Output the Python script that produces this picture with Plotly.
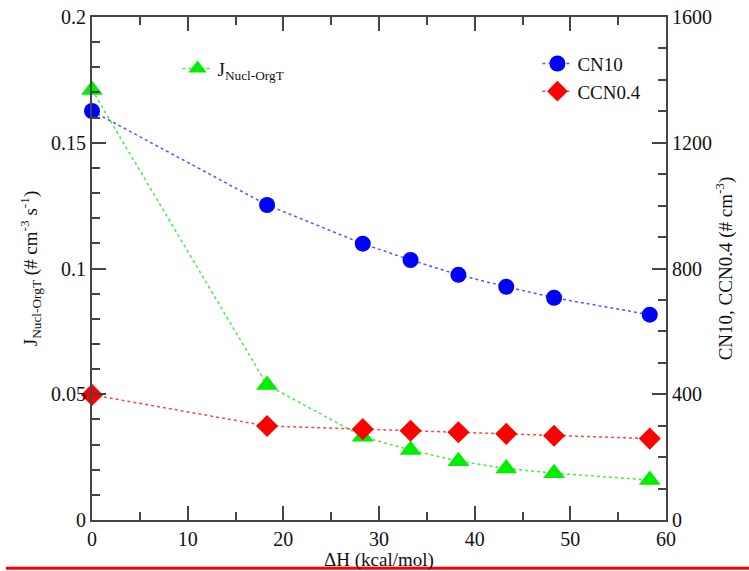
import plotly.graph_objects as go

dH = [0, 18.3, 28.3, 33.3, 38.3, 43.3, 48.3, 58.3]
J_nucl = [0.171, 0.0537, 0.0331, 0.0278, 0.0234, 0.0205, 0.0186, 0.0159]
CN10 = [1301, 1002, 879, 827, 780, 742, 707, 653]
CCN04 = [398, 299, 289, 284, 279, 274, 268, 259]

FONT = "Liberation Serif, Times New Roman, serif"
AX = "#444444"
TXT = "#111111"
tickfont = dict(family=FONT, size=20, color=TXT)
titlefont = dict(family=FONT, size=19, color=TXT)

fig = go.Figure()
fig.add_trace(go.Scatter(
    x=dH, y=J_nucl, mode="lines+markers", name="J<sub>Nucl-OrgT</sub>",
    line=dict(color="#44ee44", dash="dot", width=1.5),
    marker=dict(symbol="triangle-up", size=19, color="#00ee00"),
    legend="legend", yaxis="y", cliponaxis=False))
fig.add_trace(go.Scatter(
    x=dH, y=CN10, mode="lines+markers", name="CN10",
    line=dict(color="#5555ff", dash="dot", width=1.5),
    marker=dict(symbol="circle", size=16, color="#0000ff"),
    legend="legend2", yaxis="y2", cliponaxis=False))
fig.add_trace(go.Scatter(
    x=dH, y=CCN04, mode="lines+markers", name="CCN0.4",
    line=dict(color="#ff4444", dash="dot", width=1.5),
    marker=dict(symbol="diamond", size=17, color="#ff0000"),
    legend="legend2", yaxis="y2", cliponaxis=False))

fig.update_layout(
    template="none",
    width=749, height=571,
    margin=dict(l=92, r=83, t=17, b=51, autoexpand=False),
    paper_bgcolor="white", plot_bgcolor="white",
    font=dict(family=FONT, size=19, color=TXT),
    xaxis=dict(
        range=[0, 60], dtick=10, tick0=0, automargin=False,
        tickfont=tickfont,
        title=dict(text="ΔH (kcal/mol)", standoff=2, font=titlefont),
        showline=True, linecolor=AX, linewidth=2, mirror="ticks",
        ticks="inside", ticklen=14, tickwidth=2, tickcolor=AX,
        minor=dict(dtick=5, ticks="inside", ticklen=8, tickwidth=2, tickcolor=AX),
        showgrid=False, zeroline=False),
    yaxis=dict(
        range=[0, 0.2], dtick=0.05, tick0=0, automargin=False,
        tickfont=tickfont,
        title=dict(text="J<sub>Nucl-OrgT</sub> (# cm<sup>-3</sup> s<sup>-1</sup>)", standoff=8, font=titlefont),
        showline=True, linecolor=AX, linewidth=2,
        ticks="inside", ticklen=14, tickwidth=2, tickcolor=AX,
        minor=dict(dtick=0.01, ticks="inside", ticklen=8, tickwidth=2, tickcolor=AX),
        showgrid=False, zeroline=False),
    yaxis2=dict(
        range=[0, 1600], dtick=400, tick0=0, overlaying="y", side="right", anchor="x",
        automargin=False, tickfont=tickfont,
        title=dict(text="CN10, CCN0.4 (# cm<sup>-3</sup>)", standoff=8, font=titlefont),
        showline=True, linecolor=AX, linewidth=2,
        ticks="inside", ticklen=14, tickwidth=2, tickcolor=AX,
        minor=dict(dtick=100, ticks="inside", ticklen=8, tickwidth=2, tickcolor=AX),
        showgrid=False, zeroline=False),
    legend=dict(x=0.149, y=0.935, xanchor="left", yanchor="top",
                bgcolor="rgba(0,0,0,0)", borderwidth=0,
                font=dict(size=19, family=FONT, color=TXT)),
    legend2=dict(x=0.776, y=0.945, xanchor="left", yanchor="top",
                 bgcolor="rgba(0,0,0,0)", borderwidth=0,
                 font=dict(size=19, family=FONT, color=TXT), tracegroupgap=0),
    showlegend=True,
    shapes=[dict(type="line", xref="paper", yref="paper",
                 x0=-0.15, x1=1.15, y0=-0.096, y1=-0.096,
                 line=dict(color="#ff0000", width=3))],
)

fig.write_html("out.html")
